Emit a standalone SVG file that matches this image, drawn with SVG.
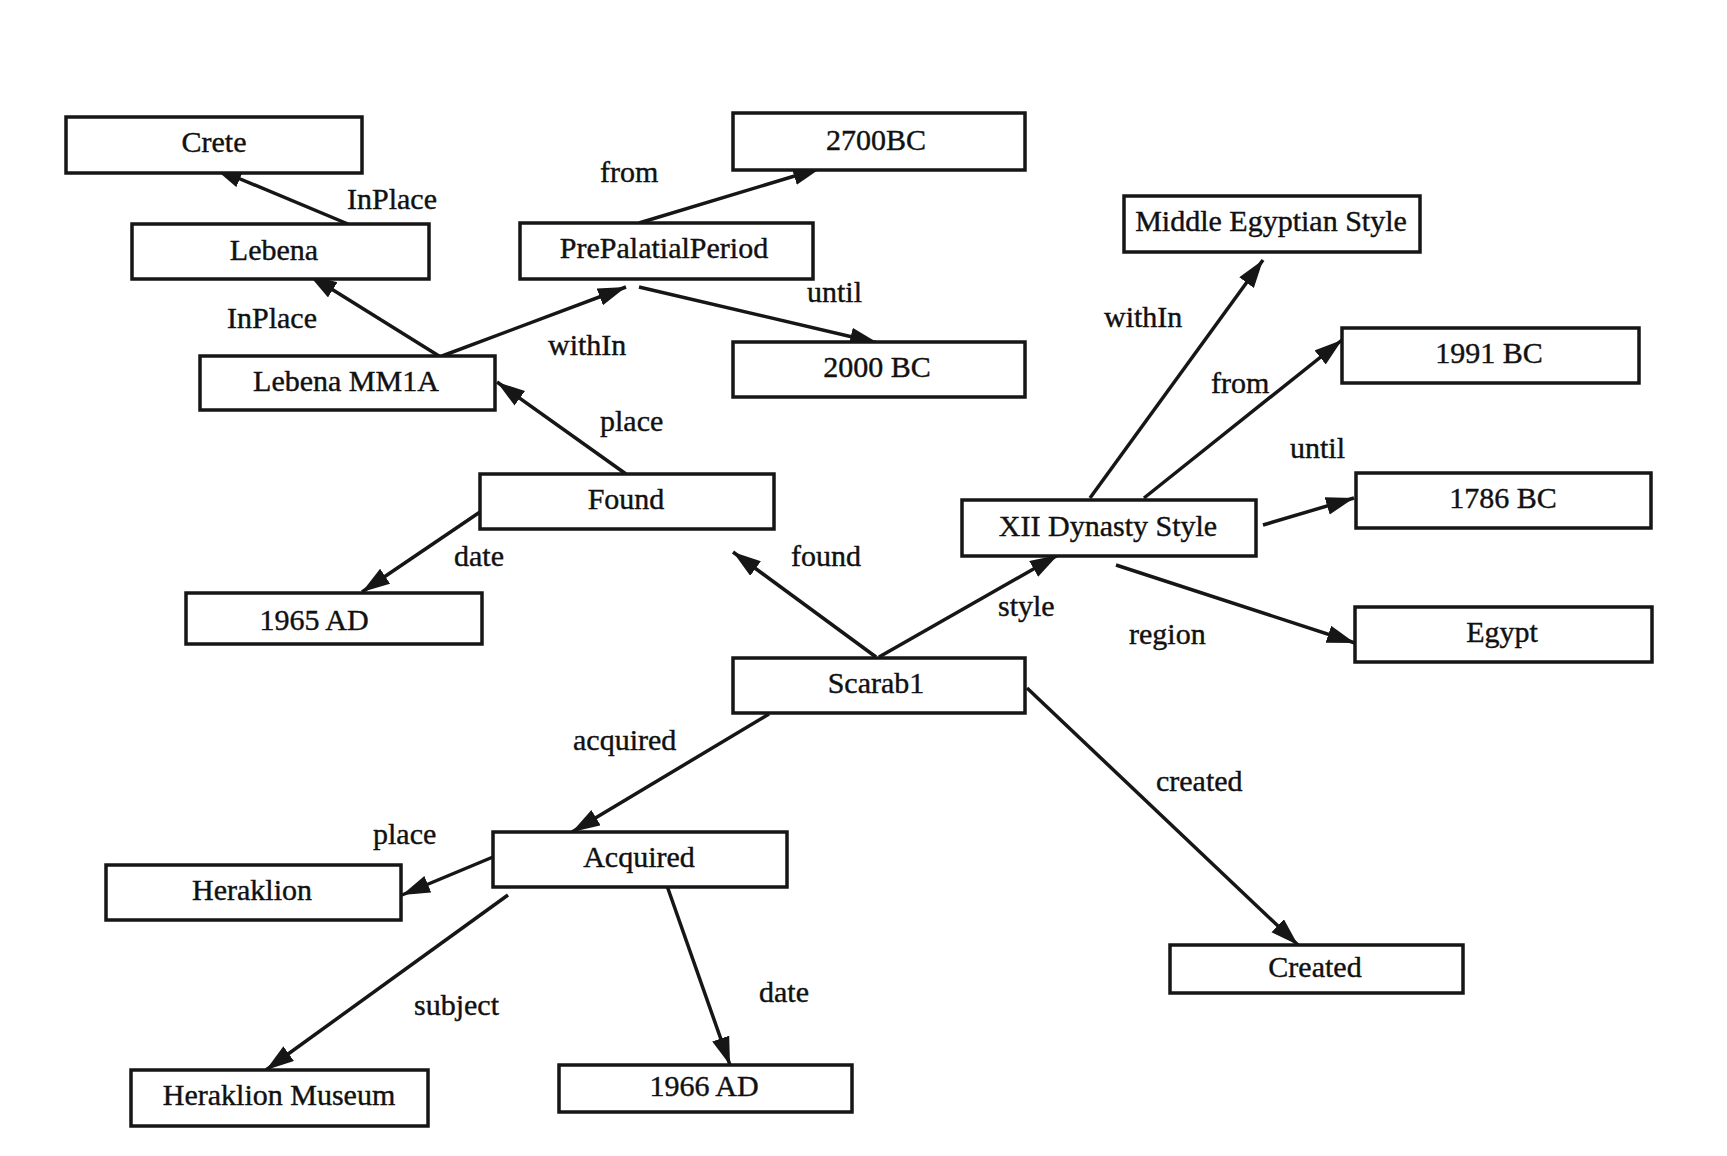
<svg xmlns="http://www.w3.org/2000/svg" width="1727" height="1156" viewBox="0 0 1727 1156">
<style>
.box{fill:#fff;stroke:#161616;stroke-width:3.5}
.nt{font-family:"Liberation Serif","Times New Roman",serif;font-size:30px;fill:#111;stroke:#111;stroke-width:0.4;text-anchor:middle}
.lb{font-family:"Liberation Serif","Times New Roman",serif;font-size:30px;fill:#111;stroke:#111;stroke-width:0.4}
.e{stroke:#161616;stroke-width:3.5;fill:none;marker-end:url(#ah)}
</style>
<defs>
<marker id="ah" markerUnits="userSpaceOnUse" markerWidth="32" markerHeight="22" refX="28" refY="9" orient="auto">
<path d="M0,0 L28,9 L0,18 z" fill="#161616"/>
</marker>
</defs>
<rect width="1727" height="1156" fill="#fff"/>
<g id="connectors">
<line class="e" x1="348" y1="224" x2="214" y2="168"/>
<line class="e" x1="439" y1="356" x2="309" y2="275"/>
<line class="e" x1="442" y1="356" x2="626" y2="287"/>
<line class="e" x1="639" y1="223" x2="821" y2="168"/>
<line class="e" x1="639" y1="287" x2="878" y2="343"/>
<line class="e" x1="626" y1="474" x2="497" y2="382"/>
<line class="e" x1="480" y1="512" x2="362" y2="592"/>
<line class="e" x1="876" y1="657" x2="733" y2="552"/>
<line class="e" x1="879" y1="657" x2="1058" y2="555"/>
<line class="e" x1="1090" y1="498" x2="1263" y2="260"/>
<line class="e" x1="1144" y1="498" x2="1342" y2="340"/>
<line class="e" x1="1263" y1="525" x2="1354" y2="498"/>
<line class="e" x1="1116" y1="565" x2="1355" y2="643"/>
<line class="e" x1="1027" y1="688" x2="1298" y2="945"/>
<line class="e" x1="769" y1="714" x2="572" y2="832"/>
<line class="e" x1="493" y1="857" x2="402" y2="895"/>
<line class="e" x1="508" y1="895" x2="266" y2="1070"/>
<line class="e" x1="666" y1="883" x2="730" y2="1065"/>
<text class="lb" x="347" y="209">InPlace</text>
<text class="lb" x="600" y="182">from</text>
<text class="lb" x="807" y="302">until</text>
<text class="lb" x="227" y="328">InPlace</text>
<text class="lb" x="548" y="355">withIn</text>
<text class="lb" x="600" y="431">place</text>
<text class="lb" x="454" y="566">date</text>
<text class="lb" x="791" y="566">found</text>
<text class="lb" x="1104" y="327">withIn</text>
<text class="lb" x="1211" y="393">from</text>
<text class="lb" x="1290" y="458">until</text>
<text class="lb" x="998" y="616">style</text>
<text class="lb" x="1129" y="644">region</text>
<text class="lb" x="573" y="750">acquired</text>
<text class="lb" x="1156" y="791">created</text>
<text class="lb" x="373" y="844">place</text>
<text class="lb" x="414" y="1015">subject</text>
<text class="lb" x="759" y="1002">date</text>
</g>
<g id="n-crete"><rect class="box" x="66" y="117" width="296" height="56"/><text class="nt" x="214" y="152">Crete</text></g>
<g id="n-lebena"><rect class="box" x="132" y="224" width="297" height="55"/><text class="nt" x="274" y="260">Lebena</text></g>
<g id="n-lebenamm1a"><rect class="box" x="200" y="356" width="295" height="54"/><text class="nt" x="346" y="391">Lebena MM1A</text></g>
<g id="n-2700bc"><rect class="box" x="733" y="113" width="292" height="57"/><text class="nt" x="876" y="150">2700BC</text></g>
<g id="n-prepalatial"><rect class="box" x="520" y="223" width="293" height="56"/><text class="nt" x="664" y="258">PrePalatialPeriod</text></g>
<g id="n-2000bc"><rect class="box" x="733" y="342" width="292" height="55"/><text class="nt" x="877" y="377">2000 BC</text></g>
<g id="n-mes"><rect class="box" x="1124" y="196" width="296" height="56"/><text class="nt" x="1271" y="231">Middle Egyptian Style</text></g>
<g id="n-1991bc"><rect class="box" x="1342" y="328" width="297" height="55"/><text class="nt" x="1489" y="363">1991 BC</text></g>
<g id="n-1786bc"><rect class="box" x="1356" y="473" width="295" height="55"/><text class="nt" x="1503" y="508">1786 BC</text></g>
<g id="n-xii"><rect class="box" x="962" y="500" width="294" height="56"/><text class="nt" x="1108" y="536">XII Dynasty Style</text></g>
<g id="n-egypt"><rect class="box" x="1355" y="607" width="297" height="55"/><text class="nt" x="1502" y="642">Egypt</text></g>
<g id="n-found"><rect class="box" x="480" y="474" width="294" height="55"/><text class="nt" x="626" y="509">Found</text></g>
<g id="n-1965ad"><rect class="box" x="186" y="593" width="296" height="51"/><text class="nt" x="314" y="630">1965 AD</text></g>
<g id="n-scarab1"><rect class="box" x="733" y="658" width="292" height="55"/><text class="nt" x="876" y="693">Scarab1</text></g>
<g id="n-created"><rect class="box" x="1170" y="945" width="293" height="48"/><text class="nt" x="1315" y="977">Created</text></g>
<g id="n-acquired"><rect class="box" x="493" y="832" width="294" height="55"/><text class="nt" x="639" y="867">Acquired</text></g>
<g id="n-heraklion"><rect class="box" x="106" y="865" width="295" height="55"/><text class="nt" x="252" y="900">Heraklion</text></g>
<g id="n-heraklionmuseum"><rect class="box" x="131" y="1070" width="297" height="56"/><text class="nt" x="279" y="1105">Heraklion Museum</text></g>
<g id="n-1966ad"><rect class="box" x="559" y="1065" width="293" height="47"/><text class="nt" x="704" y="1096">1966 AD</text></g>
</svg>
